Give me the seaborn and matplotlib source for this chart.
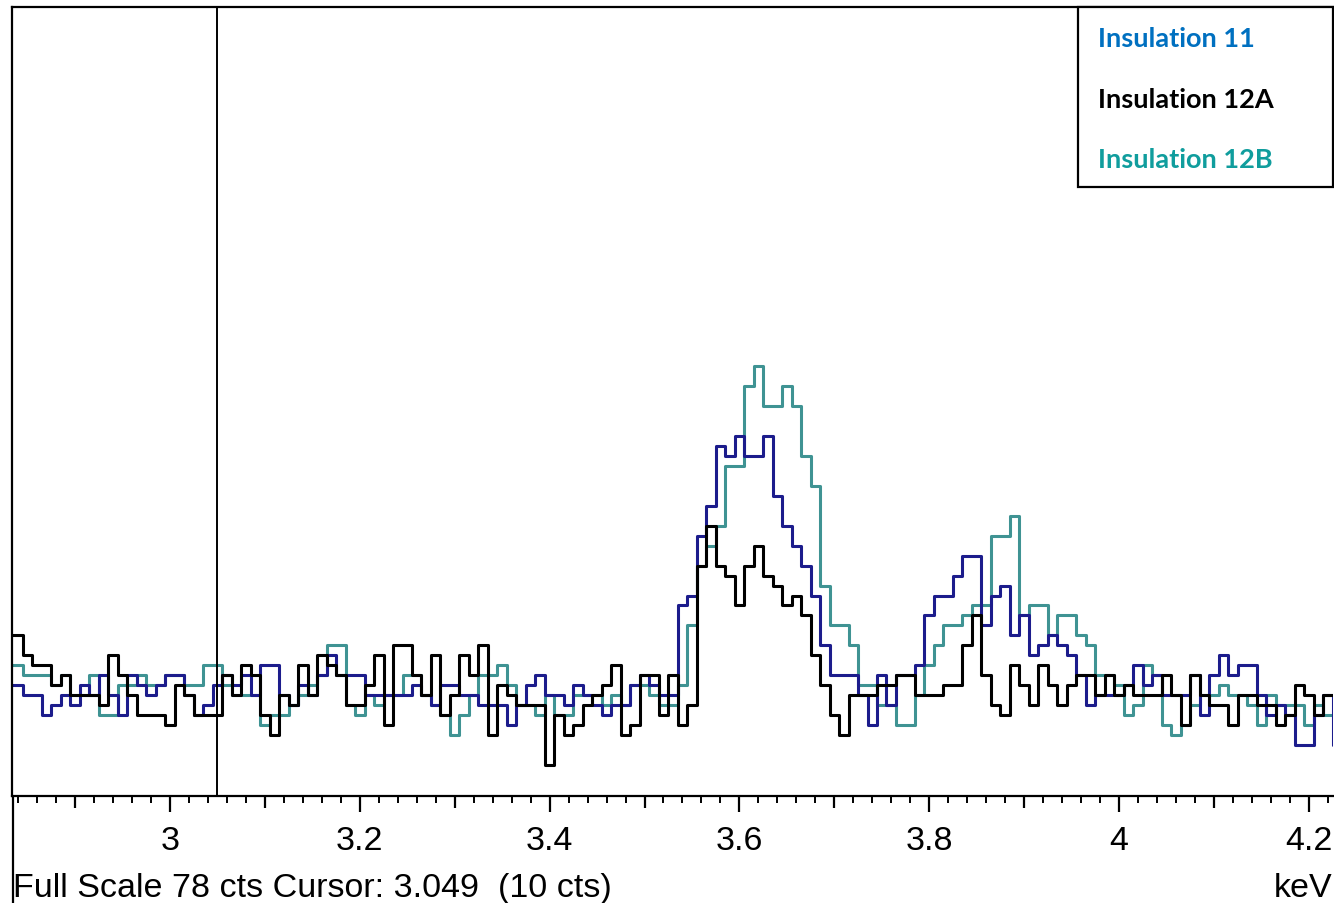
import numpy as np
import pandas as pd
import matplotlib
matplotlib.use("Agg")
import matplotlib.pyplot as plt
import seaborn as sns
from matplotlib.patches import Rectangle
from matplotlib.lines import Line2D

# channel centres, 10 eV per channel (2.83 .. 4.23 keV)
start_kev = 2.83
step_kev = 0.01
n_chan = 141
energy = np.round(start_kev + step_kev * np.arange(n_chan), 2)

# counts per channel
cts_12a = [
    15, 15, 13, 12, 12, 10, 11, 9, 9, 9,
    8, 13, 11, 9, 7, 7, 7, 6, 10, 9,
    7, 7, 7, 11, 9, 12, 11, 7, 5, 9,
    8, 12, 9, 13, 12, 11, 8, 8, 10, 13,
    6, 14, 14, 11, 9, 13, 7, 9, 13, 11,
    14, 5, 10, 9, 8, 8, 8, 2, 7, 5,
    6, 8, 9, 10, 12, 5, 6, 11, 11, 7,
    11, 6, 8, 22, 26, 22, 21, 18, 22, 24,
    21, 20, 18, 19, 17, 13, 10, 7, 5, 9,
    9, 9, 10, 10, 11, 11, 9, 9, 9, 10,
    10, 14, 17, 11, 8, 7, 12, 10, 8, 12,
    10, 8, 10, 11, 11, 9, 11, 9, 10, 9,
    9, 9, 11, 9, 6, 11, 9, 8, 8, 6,
    9, 9, 8, 8, 6, 7, 10, 9, 7, 9,
    9,
]
cts_11 = [
    10, 10, 9, 9, 7, 8, 9, 8, 10, 9,
    11, 9, 7, 11, 10, 9, 10, 11, 11, 9,
    7, 8, 10, 11, 10, 11, 9, 12, 12, 9,
    8, 10, 9, 11, 13, 11, 11, 11, 9, 9,
    9, 9, 9, 10, 9, 8, 10, 10, 9, 9,
    8, 8, 8, 6, 8, 10, 11, 9, 9, 8,
    10, 9, 8, 7, 8, 8, 10, 11, 10, 9,
    9, 18, 19, 25, 28, 34, 33, 35, 33, 33,
    35, 29, 26, 24, 22, 19, 14, 11, 11, 11,
    9, 6, 11, 8, 11, 11, 12, 17, 19, 19,
    21, 23, 23, 16, 19, 20, 15, 17, 13, 14,
    15, 14, 13, 11, 8, 9, 9, 9, 10, 12,
    10, 11, 9, 9, 9, 11, 7, 11, 13, 11,
    12, 12, 9, 7, 8, 7, 4, 4, 7, 9,
    4,
]
cts_12b = [
    12, 12, 11, 11, 11, 10, 11, 9, 9, 11,
    7, 7, 10, 10, 11, 10, 10, 11, 11, 10,
    10, 12, 12, 10, 9, 9, 9, 6, 7, 7,
    8, 9, 10, 11, 14, 14, 8, 7, 9, 8,
    9, 9, 11, 11, 9, 8, 7, 5, 7, 9,
    11, 11, 12, 10, 8, 8, 7, 9, 7, 7,
    9, 9, 9, 8, 9, 8, 10, 10, 9, 8,
    8, 10, 16, 22, 24, 26, 32, 32, 40, 42,
    38, 38, 40, 38, 33, 30, 20, 16, 16, 14,
    10, 10, 8, 8, 6, 6, 9, 12, 14, 16,
    16, 17, 18, 18, 25, 25, 27, 17, 18, 18,
    15, 17, 17, 15, 14, 11, 11, 10, 7, 8,
    12, 11, 6, 5, 6, 8, 9, 9, 10, 9,
    9, 8, 6, 9, 8, 8, 8, 6, 8, 7,
    7,
]

samples = ["Insulation 11", "Insulation 12A", "Insulation 12B"]
line_colors = {"Insulation 11": "#1c1c8c", "Insulation 12A": "#000000", "Insulation 12B": "#3f9393"}
label_colors = ["#0070c0", "#000000", "#109d9d"]

tick_vals = [3.0, 3.2, 3.4, 3.6, 3.8, 4.0, 4.2]
tick_labels = ["3", "3.2", "3.4", "3.6", "3.8", "4", "4.2"]
cursor_kev = 3.049

df = pd.DataFrame({
    "keV": np.tile(energy, 3),
    "counts": np.concatenate([cts_11, cts_12a, cts_12b]),
    "sample": np.repeat(samples, n_chan),
})

W, H = 1334, 904
PT = 0.72  # points per pixel at dpi 100

sns.set_theme(style="white")
plt.rcParams["font.family"] = ["Liberation Sans Narrow", "Liberation Sans", "DejaVu Sans"]

fig = plt.figure(figsize=(W / 100, H / 100), dpi=100)
ax = fig.add_axes([12 / W, 1 - 797 / H, (1333 - 12) / W, (797 - 8) / H])

sns.lineplot(data=df, x="keV", y="counts", hue="sample",
             hue_order=["Insulation 12B", "Insulation 11", "Insulation 12A"],
             palette=line_colors, estimator=None, drawstyle="steps-mid",
             linewidth=2.2, legend=False, ax=ax)

ax.axvline(cursor_kev, color="black", lw=1.4, zorder=5)

ax.set_xlim(2.8335, 4.2255)
ax.set_ylim(-1.1, 78)
ax.set_xlabel("")
ax.set_ylabel("")
ax.set_yticks([])

ax.set_xticks(tick_vals, tick_labels)
ax.set_xticks(np.arange(2.84, 4.2201, 0.02), minor=True)
ax.tick_params(axis="x", which="major", direction="out", length=16 * PT, width=1.6,
               pad=13 * PT, labelsize=24.5, colors="black", bottom=True)
ax.tick_params(axis="x", which="minor", direction="out", length=7 * PT, width=1.4,
               colors="black", bottom=True)

# medium ticks every 0.1 keV
sec = ax.secondary_xaxis("bottom")
sec.set_xticks(np.arange(2.9, 4.21, 0.2))
sec.tick_params(axis="x", direction="out", length=12 * PT, width=1.6,
                labelbottom=False, colors="black")
sec.spines["bottom"].set_visible(False)

for side in ["top", "left", "bottom"]:
    ax.spines[side].set_color("black")
    ax.spines[side].set_linewidth(1.6)
ax.spines["right"].set_visible(False)

# left frame line runs on down to the status text
fig.add_artist(Line2D([12.5 / W, 12.5 / W], [0, 1 - 797 / H], color="black", lw=1.6))

fig.text(13 / W, 1 - 897 / H, "Full Scale 78 cts Cursor: 3.049  (10 cts)",
         ha="left", va="baseline", fontsize=24.5, color="black")
fig.text(1332 / W, 1 - 897 / H, "keV", ha="right", va="baseline",
         fontsize=24.5, color="black")

# legend box with coloured labels
fig.add_artist(Rectangle((1078 / W, 1 - 188 / H), (1333 - 1078) / W, (188 - 8) / H,
                         transform=fig.transFigure, facecolor="white",
                         edgecolor="black", lw=1.6, zorder=10))
for name, col, base in zip(samples, label_colors, [47, 108, 168.5]):
    fig.text(1098 / W, 1 - base / H, name, ha="left", va="baseline", color=col,
             fontsize=19.5, fontweight="bold", family=["Lato", "DejaVu Sans"], zorder=11)

fig.savefig("out.png", dpi=100)
plt.close(fig)
